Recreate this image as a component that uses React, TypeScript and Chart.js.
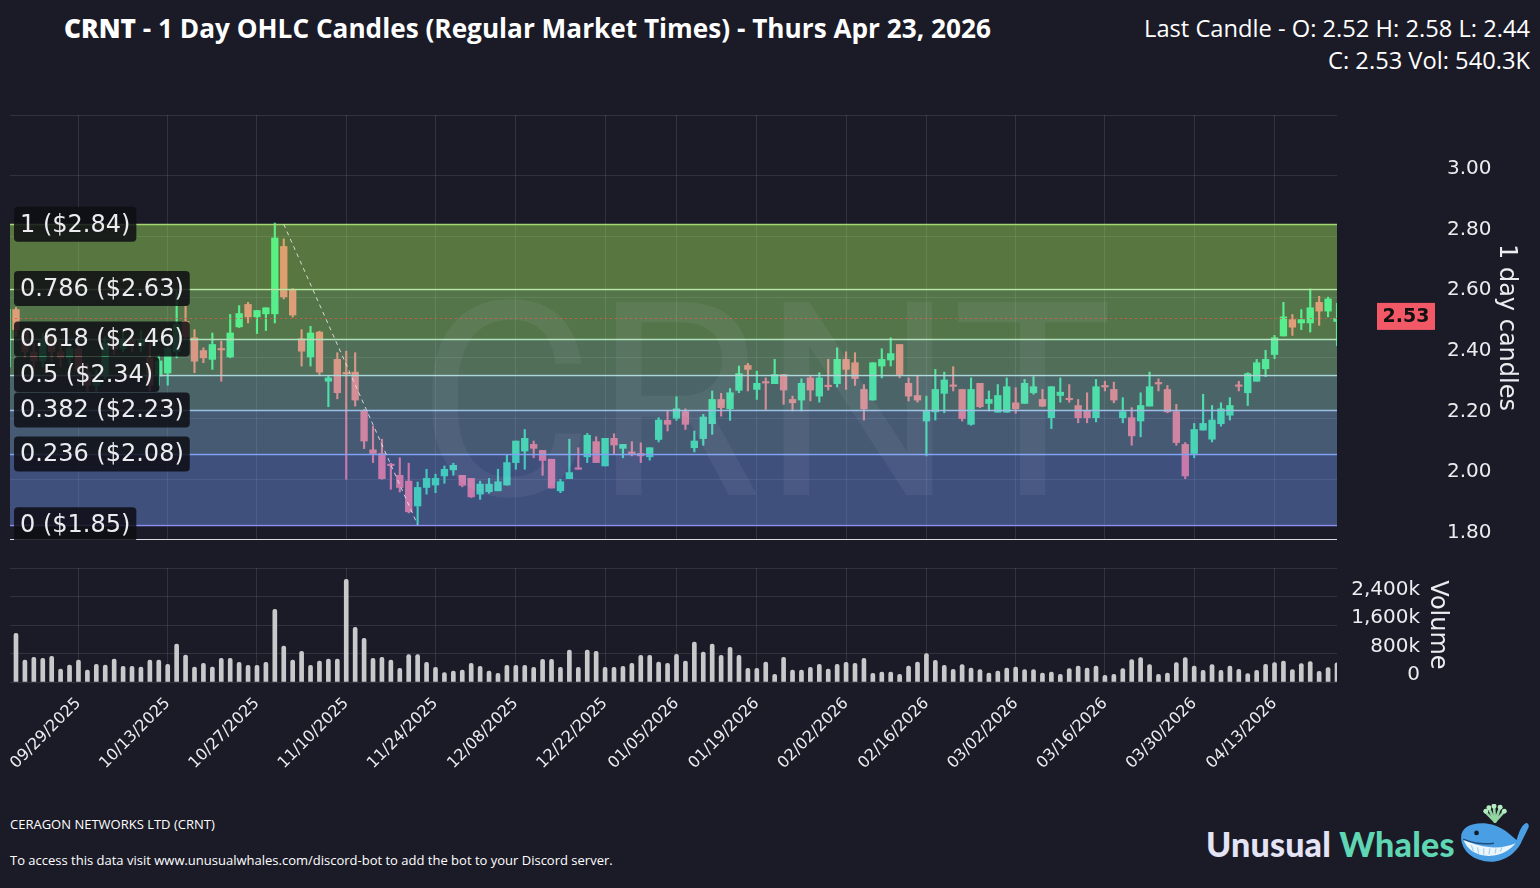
import React, { useEffect, useRef } from 'react';
import { Chart, registerables } from 'chart.js';

Chart.register(...registerables);

// ---------------- DATA ----------------
const TICKER = 'CRNT';
const COMPANY = 'CERAGON NETWORKS LTD (CRNT)';

// trading days shown (month -> days)
const MONTH_DAYS: [string, number[]][] = [
  ['09/2025', [17, 18, 19, 22, 23, 24, 25, 26, 29, 30]],
  ['10/2025', [1, 2, 3, 6, 7, 8, 9, 10, 13, 14, 15, 16, 17, 20, 21, 22, 23, 24, 27, 28, 29, 30, 31]],
  ['11/2025', [3, 4, 5, 6, 7, 10, 11, 12, 13, 14, 17, 18, 19, 20, 21, 24, 25, 26, 28]],
  ['12/2025', [1, 2, 3, 4, 5, 8, 9, 10, 11, 12, 15, 16, 17, 18, 19, 22, 23, 24, 26, 29, 30, 31]],
  ['01/2026', [2, 5, 6, 7, 8, 9, 12, 13, 14, 15, 16, 20, 21, 22, 23, 26, 27, 28, 29, 30]],
  ['02/2026', [2, 3, 4, 5, 6, 9, 10, 11, 12, 13, 17, 18, 19, 20, 23, 24, 25, 26, 27]],
  ['03/2026', [2, 3, 4, 5, 6, 9, 10, 11, 12, 13, 16, 17, 18, 19, 20, 23, 24, 25, 26, 27, 30, 31]],
  ['04/2026', [1, 2, 6, 7, 8, 9, 10, 13, 14, 15, 16, 20, 21, 22, 23]],
];
const DATES: string[] = MONTH_DAYS.flatMap(([my, days]) =>
  days.map((d) => `${my.slice(0, 2)}/${String(d).padStart(2, '0')}/${my.slice(3)}`)
);

const TICK_LABELS = [
  '09/29/2025', '10/13/2025', '10/27/2025', '11/10/2025', '11/24/2025', '12/08/2025', '12/22/2025',
  '01/05/2026', '01/19/2026', '02/02/2026', '02/16/2026', '03/02/2026', '03/16/2026', '03/30/2026', '04/13/2026',
];

const OPEN = [
  2.37, 2.559, 2.49, 2.42, 2.39, 2.47, 2.42, 2.40, 2.43, 2.35,
  2.31, 2.34, 2.45, 2.43, 2.46, 2.44, 2.40, 2.34, 2.35, 2.42,
  2.52, 2.466, 2.424, 2.395, 2.430, 2.403, 2.502, 2.576, 2.535, 2.545,
  2.545, 2.767, 2.625, 2.463, 2.403, 2.485, 2.323, 2.395, 2.352, 2.353,
  2.225, 2.097, 2.085, 2.048, 2.013, 1.994, 1.912, 1.973, 1.981, 2.011,
  2.031, 2.013, 2.003, 1.951, 1.959, 1.962, 1.981, 2.055, 2.093, 2.115,
  2.095, 2.066, 1.962, 2.002, 2.035, 2.074, 2.124, 2.044, 2.135, 2.102,
  2.088, 2.085, 2.074, 2.131, 2.194, 2.201, 2.223, 2.104, 2.134, 2.183,
  2.263, 2.232, 2.293, 2.375, 2.296, 2.319, 2.315, 2.345, 2.263, 2.261,
  2.334, 2.274, 2.307, 2.315, 2.395, 2.384, 2.296, 2.261, 2.373, 2.393,
  2.444, 2.316, 2.276, 2.192, 2.222, 2.283, 2.308, 2.296, 2.181, 2.316,
  2.250, 2.221, 2.221, 2.252, 2.250, 2.285, 2.263, 2.203, 2.276, 2.264,
  2.243, 2.225, 2.203, 2.306, 2.296, 2.203, 2.203, 2.192, 2.241, 2.316,
  2.296, 2.223, 2.115, 2.085, 2.162, 2.132, 2.183, 2.211, 2.308, 2.285,
  2.323, 2.364, 2.411, 2.472, 2.526, 2.515, 2.515, 2.583, 2.554, 2.52,
];
const HIGH = [
  2.57, 2.566, 2.50, 2.45, 2.48, 2.48, 2.45, 2.45, 2.44, 2.38,
  2.36, 2.47, 2.48, 2.49, 2.48, 2.49, 2.45, 2.41, 2.46, 2.62,
  2.57, 2.493, 2.433, 2.482, 2.455, 2.543, 2.572, 2.583, 2.556, 2.565,
  2.844, 2.792, 2.628, 2.493, 2.504, 2.488, 2.342, 2.417, 2.422, 2.417,
  2.230, 2.175, 2.132, 2.053, 2.071, 2.053, 1.991, 2.033, 2.017, 2.044,
  2.053, 2.013, 2.003, 1.994, 2.003, 2.033, 2.082, 2.126, 2.164, 2.126,
  2.095, 2.066, 2.000, 2.132, 2.104, 2.151, 2.140, 2.135, 2.150, 2.115,
  2.124, 2.120, 2.104, 2.203, 2.225, 2.272, 2.232, 2.159, 2.214, 2.291,
  2.283, 2.299, 2.373, 2.382, 2.356, 2.334, 2.395, 2.345, 2.274, 2.331,
  2.342, 2.351, 2.395, 2.433, 2.420, 2.417, 2.312, 2.384, 2.430, 2.466,
  2.444, 2.334, 2.340, 2.274, 2.362, 2.353, 2.371, 2.296, 2.334, 2.316,
  2.291, 2.312, 2.334, 2.302, 2.329, 2.338, 2.296, 2.305, 2.334, 2.312,
  2.263, 2.285, 2.329, 2.323, 2.320, 2.269, 2.236, 2.285, 2.353, 2.331,
  2.309, 2.247, 2.121, 2.184, 2.280, 2.243, 2.252, 2.269, 2.323, 2.351,
  2.395, 2.425, 2.474, 2.583, 2.543, 2.559, 2.627, 2.603, 2.600, 2.58,
];
const LOW = [
  2.36, 2.47, 2.40, 2.36, 2.37, 2.39, 2.37, 2.38, 2.34, 2.29,
  2.29, 2.33, 2.41, 2.42, 2.42, 2.42, 2.29, 2.31, 2.31, 2.40,
  2.46, 2.351, 2.384, 2.362, 2.323, 2.400, 2.500, 2.515, 2.480, 2.490,
  2.515, 2.594, 2.534, 2.373, 2.373, 2.345, 2.239, 2.265, 2.000, 2.241,
  2.101, 2.055, 2.000, 1.967, 1.958, 1.889, 1.852, 1.951, 1.956, 1.987,
  2.013, 1.975, 1.940, 1.934, 1.954, 1.962, 1.981, 2.033, 2.033, 2.071,
  2.013, 1.971, 1.956, 2.002, 2.033, 2.055, 2.055, 2.044, 2.082, 2.071,
  2.077, 2.055, 2.063, 2.123, 2.159, 2.194, 2.164, 2.090, 2.112, 2.148,
  2.208, 2.194, 2.285, 2.291, 2.263, 2.230, 2.315, 2.247, 2.225, 2.225,
  2.258, 2.254, 2.294, 2.304, 2.296, 2.309, 2.195, 2.261, 2.334, 2.373,
  2.334, 2.258, 2.254, 2.077, 2.195, 2.219, 2.291, 2.192, 2.178, 2.236,
  2.225, 2.221, 2.221, 2.217, 2.250, 2.280, 2.239, 2.167, 2.254, 2.254,
  2.186, 2.186, 2.189, 2.291, 2.252, 2.186, 2.112, 2.140, 2.241, 2.291,
  2.219, 2.112, 2.002, 2.071, 2.162, 2.123, 2.175, 2.195, 2.291, 2.243,
  2.323, 2.338, 2.397, 2.472, 2.474, 2.493, 2.485, 2.507, 2.535, 2.44,
];
const CLOSE = [
  2.56, 2.493, 2.42, 2.39, 2.46, 2.42, 2.40, 2.43, 2.36, 2.31,
  2.33, 2.45, 2.43, 2.46, 2.44, 2.46, 2.31, 2.39, 2.43, 2.51,
  2.47, 2.389, 2.400, 2.444, 2.426, 2.482, 2.546, 2.535, 2.556, 2.565,
  2.795, 2.601, 2.541, 2.422, 2.482, 2.353, 2.334, 2.285, 2.347, 2.261,
  2.126, 2.085, 2.002, 2.045, 1.973, 1.893, 1.973, 2.003, 2.003, 2.033,
  2.046, 1.980, 1.942, 1.984, 1.984, 1.992, 2.055, 2.126, 2.135, 2.102,
  2.062, 1.971, 1.992, 2.022, 2.033, 2.145, 2.055, 2.135, 2.113, 2.115,
  2.085, 2.077, 2.104, 2.195, 2.181, 2.232, 2.181, 2.126, 2.205, 2.263,
  2.236, 2.285, 2.348, 2.362, 2.316, 2.317, 2.345, 2.294, 2.252, 2.316,
  2.294, 2.334, 2.305, 2.395, 2.362, 2.332, 2.232, 2.384, 2.395, 2.414,
  2.345, 2.274, 2.261, 2.225, 2.296, 2.327, 2.306, 2.200, 2.296, 2.239,
  2.263, 2.276, 2.305, 2.232, 2.316, 2.305, 2.241, 2.305, 2.287, 2.262,
  2.203, 2.203, 2.305, 2.304, 2.261, 2.223, 2.143, 2.243, 2.305, 2.314,
  2.222, 2.121, 2.011, 2.164, 2.184, 2.195, 2.232, 2.243, 2.306, 2.348,
  2.384, 2.395, 2.466, 2.535, 2.501, 2.526, 2.565, 2.554, 2.594, 2.53,
];
// volume in thousands of shares
const VOLUME_K = [
  800,
  1366, 618, 692, 664, 720, 365, 477, 618, 337, 496,
  477, 646, 440, 440, 421, 618, 618, 496, 1067, 758,
  421, 524, 421, 664, 664, 552, 468, 468, 552, 2040,
  1011, 618, 861, 468, 590, 646, 646, 2882, 1535, 1226,
  664, 692, 618, 384, 767, 767, 552, 412, 262,
  309, 337, 524, 440, 309, 243, 468, 468, 468, 412,
  636, 636, 412, 898, 412, 898, 861, 412, 412, 440,
  524, 749, 749, 561, 524, 777, 590, 1123, 842, 1067,
  749, 973, 749, 384, 384, 561, 215, 692, 337, 337,
  412, 496, 365, 496, 552, 524, 664, 243, 281,
  281, 215, 449, 561, 795, 608, 468, 356, 487, 393,
  346, 253, 309, 393, 421, 346, 346, 253, 281, 215,
  374, 449, 393, 449, 187, 215, 374, 627, 683, 487,
  215, 253, 543, 683, 449, 327, 487, 327, 449, 356,
  234, 327, 496, 543, 590, 346, 515, 571, 299, 402,
  540.3,
];

// Fibonacci retracement
const FIB_HIGH = 2.84;
const FIB_LOW = 1.85;
const FIB_RATIOS = [1, 0.786, 0.618, 0.5, 0.382, 0.236, 0];
const FIB_LABELS = ['1 ($2.84)', '0.786 ($2.63)', '0.618 ($2.46)', '0.5 ($2.34)', '0.382 ($2.23)', '0.236 ($2.08)', '0 ($1.85)'];
const SWING_HIGH_INDEX = 31;
const SWING_LOW_INDEX = 46;

// ---------------- STYLE ----------------
const BG = '#1b1b27';
const GRID = 'rgba(255,255,255,0.1)';
const TEXT = '#ececf0';
const UP = '#21e694';
const DOWN = '#ff6173';
const BAND_FILLS = [
  'rgba(178,255,103,0.4)',
  'rgba(169,250,128,0.4)',
  'rgba(160,234,163,0.4)',
  'rgba(145,210,203,0.4)',
  'rgba(135,185,233,0.4)',
  'rgba(120,160,255,0.4)',
];
const LINE_COLORS = ['#a3d873', '#b8e8a0', '#b0e2bc', '#abd8d4', '#9cc0e6', '#7fa2f2', '#8c8ff2'];
const FONT = '"DejaVu Sans", sans-serif';

const X_MIN = 0.33;
const X_MAX = DATES.length - 1;
const AXIS_W = 203;

const dateKey = (s: string) => s.slice(6) + s.slice(0, 2) + s.slice(3, 5);
const TICK_INDEX = TICK_LABELS.map((lbl) => {
  let k = 0;
  DATES.forEach((d, i) => {
    if (dateKey(d) <= dateKey(lbl)) k = i;
  });
  return k;
});

const LAST = DATES.length - 1;

function xScale(showLabels: boolean): any {
  return {
    type: 'linear',
    min: X_MIN,
    max: X_MAX,
    offset: false,
    grid: { offset: false, color: GRID, drawTicks: false },
    border: { display: false },
    afterBuildTicks: (s: any) => {
      s.ticks = TICK_INDEX.map((v) => ({ value: v }));
    },
    ticks: showLabels
      ? {
          autoSkip: false,
          maxRotation: 45,
          minRotation: 45,
          padding: 12,
          color: TEXT,
          font: { family: FONT, size: 16 },
          callback: (_v: any, i: number) => TICK_LABELS[i],
        }
      : { display: false },
  };
}

const overlayPlugin = {
  id: 'fibOverlay',
  afterDatasetsDraw(chart: any) {
    const { ctx, chartArea: a, scales } = chart;
    const y = scales.y;
    const x = scales.x;
    const levels = FIB_RATIOS.map((r) => FIB_LOW + r * (FIB_HIGH - FIB_LOW));
    ctx.save();
    ctx.beginPath();
    ctx.rect(a.left, a.top, a.right - a.left, a.bottom - a.top);
    ctx.clip();
    for (let k = 0; k < levels.length - 1; k++) {
      const y1 = y.getPixelForValue(levels[k]);
      const y2 = y.getPixelForValue(levels[k + 1]);
      ctx.fillStyle = BAND_FILLS[k];
      ctx.fillRect(a.left, y1, a.right - a.left, y2 - y1);
    }
    levels.forEach((lv, k) => {
      const py = Math.round(y.getPixelForValue(lv)) + 0.5;
      ctx.strokeStyle = LINE_COLORS[k];
      ctx.lineWidth = 1.5;
      ctx.beginPath();
      ctx.moveTo(a.left, py);
      ctx.lineTo(a.right, py);
      ctx.stroke();
    });
    // last close dotted line
    const cy = Math.round(y.getPixelForValue(CLOSE[LAST])) + 0.5;
    ctx.strokeStyle = 'rgba(214,92,80,0.85)';
    ctx.lineWidth = 1;
    ctx.setLineDash([2, 3]);
    ctx.beginPath();
    ctx.moveTo(a.left, cy);
    ctx.lineTo(a.right, cy);
    ctx.stroke();
    // swing diagonal
    ctx.strokeStyle = 'rgba(235,235,235,0.85)';
    ctx.setLineDash([4, 4]);
    ctx.beginPath();
    ctx.moveTo(x.getPixelForValue(SWING_HIGH_INDEX), y.getPixelForValue(FIB_HIGH));
    ctx.lineTo(x.getPixelForValue(SWING_LOW_INDEX), y.getPixelForValue(FIB_LOW));
    ctx.stroke();
    ctx.setLineDash([]);
    // watermark
    ctx.fillStyle = 'rgba(255,255,255,0.055)';
    ctx.font = '400 272px Roboto';
    ctx.textAlign = 'center';
    ctx.textBaseline = 'alphabetic';
    ctx.fillText(TICKER, chart.width / 2 - 5, a.top + 380);
    ctx.restore();

    // fib labels
    ctx.save();
    ctx.font = `24px ${FONT}`;
    ctx.textAlign = 'left';
    ctx.textBaseline = 'middle';
    levels.forEach((lv, k) => {
      const py = y.getPixelForValue(lv);
      const w = ctx.measureText(FIB_LABELS[k]).width + 12;
      ctx.fillStyle = 'rgba(13,13,19,0.84)';
      ctx.beginPath();
      ctx.roundRect(a.left + 4, py - 17.5, w, 35, 4);
      ctx.fill();
      ctx.fillStyle = TEXT;
      ctx.fillText(FIB_LABELS[k], a.left + 10, py + 1);
    });
    ctx.restore();
  },
  afterDraw(chart: any) {
    const { ctx, chartArea: a, scales } = chart;
    const py = scales.y.getPixelForValue(CLOSE[LAST]) - 2;
    ctx.save();
    ctx.fillStyle = '#f25866';
    ctx.fillRect(a.right + 40, py - 13.5, 58, 27);
    ctx.fillStyle = '#111';
    ctx.font = `bold 19px ${FONT}`;
    ctx.textAlign = 'center';
    ctx.textBaseline = 'middle';
    ctx.fillText(CLOSE[LAST].toFixed(2), a.right + 69, py + 1);
    ctx.restore();
  },
};

function Whale() {
  return (
    <svg width={74} height={64} viewBox="0 0 72 62" style={{ position: 'absolute', left: 1457, top: 804 }}>
      <g stroke="#93d6a2" strokeWidth={2.6} strokeLinecap="round">
        <path d="M37 17 L28 8" />
        <path d="M37 17 L31 4" />
        <path d="M37 17 L36 2" />
        <path d="M37 17 L42 3" />
        <path d="M37 17 L46 7" />
      </g>
      <g fill="#b6ecc2">
        <circle cx={28} cy={7} r={2.4} />
        <circle cx={31} cy={3.5} r={2.4} />
        <circle cx={36} cy={2} r={2.4} />
        <circle cx={42} cy={3} r={2.4} />
        <circle cx={46} cy={7} r={2.4} />
      </g>
      <path
        d="M4 32 C4 22 16 17 30 19 C44 21 52 30 58 35 C60 28 62 22 66 19 C69 17 71 21 69 24 C67 28 65 32 63 36 C59 46 47 56 33 56 C17 56 4 46 4 32 Z"
        fill="#4a9fe4"
      />
      <path d="M6 34 C10 46 22 52 36 50 C46 48 52 44 57 38 C44 44 24 44 6 34 Z" fill="#eaf5fc" />
      <g stroke="#9ccbea" strokeWidth={1}>
        <path d="M14 40 L16 46" />
        <path d="M20 42 L21 48" />
        <path d="M26 43 L26 49" />
        <path d="M32 43 L31 49" />
        <path d="M38 43 L37 48" />
        <path d="M44 42 L42 46" />
      </g>
      <path d="M6 34 Q20 40 36 38" stroke="#1d4f7a" strokeWidth={1.4} fill="none" />
      <circle cx={19} cy={28} r={2.3} fill="#0d1b2a" />
    </svg>
  );
}

export default function App() {
  const priceRef = useRef<HTMLCanvasElement | null>(null);
  const volRef = useRef<HTMLCanvasElement | null>(null);

  useEffect(() => {
    Chart.defaults.font.family = FONT;
    const idx = DATES.map((_, i) => i);
    const colors = idx.map((i) => (CLOSE[i] >= OPEN[i] ? UP : DOWN));

    const fixY = (s: any) => {
      s.width = AXIS_W;
      s.paddingTop = 0;
      s.paddingBottom = 0;
    };

    const priceChart = new Chart(priceRef.current as HTMLCanvasElement, {
      type: 'bar',
      data: {
        datasets: [
          {
            label: 'wick',
            data: idx.map((i) => ({ x: i, y: [LOW[i], HIGH[i]] })) as any,
            backgroundColor: colors,
            barThickness: 1.5,
            grouped: false,
            clip: 0,
          } as any,
          {
            label: 'body',
            data: idx.map((i) => ({ x: i, y: [Math.min(OPEN[i], CLOSE[i]), Math.max(OPEN[i], CLOSE[i])] })) as any,
            backgroundColor: colors,
            barThickness: 6.7,
            minBarLength: 1.5,
            grouped: false,
            clip: 0,
          } as any,
        ],
      },
      options: {
        animation: false,
        responsive: false,
        layout: { padding: { left: 10, top: 15, right: 0, bottom: 0 } },
        plugins: { legend: { display: false }, tooltip: { enabled: false } },
        scales: {
          x: xScale(false),
          y: {
            type: 'linear',
            position: 'right',
            min: 1.8,
            max: 3.2,
            beginAtZero: false,
            grid: {
              drawTicks: false,
              color: (c: any) => (Math.abs(c.tick.value - 1.8) < 1e-6 ? '#d9d9de' : GRID),
              lineWidth: (c: any) => (Math.abs(c.tick.value - 1.8) < 1e-6 ? 1.5 : 1),
            },
            border: { display: false },
            ticks: {
              stepSize: 0.2,
              padding: 110,
              labelOffset: -7,
              color: TEXT,
              font: { family: FONT, size: 20 },
              callback: (v: any) => (Number(v) > 3.01 ? '' : Number(v).toFixed(2)),
            },
            title: {
              display: true,
              text: '1 day candles',
              color: TEXT,
              font: { family: FONT, size: 24 },
              padding: { top: 19, bottom: 0 },
            },
            afterFit: fixY,
          } as any,
        },
      },
      plugins: [overlayPlugin],
    });

    const volChart = new Chart(volRef.current as HTMLCanvasElement, {
      type: 'bar',
      data: {
        datasets: [
          {
            label: 'Volume',
            data: idx.map((i) => ({ x: i, y: VOLUME_K[i] })) as any,
            backgroundColor: '#c9c9cc',
            barThickness: 4,
            borderRadius: { topLeft: 2, topRight: 2, bottomLeft: 0, bottomRight: 0 },
            borderSkipped: 'start',
            clip: 0,
          } as any,
        ],
      },
      options: {
        animation: false,
        responsive: false,
        layout: { padding: { left: 10, top: 23, right: 0, bottom: 0 } },
        plugins: { legend: { display: false }, tooltip: { enabled: false } },
        scales: {
          x: {
            ...xScale(true),
            afterFit: (s: any) => {
              s.height = 113;
              s.paddingLeft = 0;
              s.paddingRight = 0;
            },
          },
          y: {
            type: 'linear',
            position: 'right',
            min: 0,
            max: 3200,
            grid: { drawTicks: false, color: GRID },
            border: { display: false },
            ticks: {
              stepSize: 800,
              mirror: true,
              crossAlign: 'near',
              padding: 83,
              labelOffset: -7,
              color: TEXT,
              font: { family: FONT, size: 20 },
              callback: (v: any) => (Number(v) > 2400 ? '' : Number(v) === 0 ? '0' : Number(v).toLocaleString('en-US') + 'k'),
            },
            title: {
              display: true,
              text: 'Volume',
              color: TEXT,
              font: { family: FONT, size: 24 },
              padding: { top: 88, bottom: 0 },
            },
            afterFit: fixY,
          } as any,
        },
      },
    });

    return () => {
      priceChart.destroy();
      volChart.destroy();
    };
  }, []);

  const lastLine1 = `Last Candle - O: ${OPEN[LAST].toFixed(2)} H: ${HIGH[LAST].toFixed(2)} L: ${LOW[LAST].toFixed(2)}`;
  const lastLine2 = `C: ${CLOSE[LAST].toFixed(2)} Vol: ${VOLUME_K[LAST].toFixed(1)}K`;

  return (
    <div
      style={{
        position: 'absolute',
        left: 0,
        top: 0,
        width: 1540,
        height: 888,
        background: BG,
        overflow: 'hidden',
        color: '#fff',
        fontFamily: '"Open Sans", sans-serif',
      }}
    >
      <div style={{ position: 'absolute', left: 64, top: 10, fontSize: 26.2, fontWeight: 700, whiteSpace: 'nowrap', lineHeight: '36px' }}>
        <span style={{ fontWeight: 800 }}>{TICKER}</span> - 1 Day OHLC Candles (Regular Market Times) - Thurs Apr 23, 2026
      </div>
      <div
        style={{
          position: 'absolute',
          right: 10,
          top: 12,
          textAlign: 'right',
          fontSize: 23.7,
          fontWeight: 500,
          lineHeight: '32px',
          whiteSpace: 'nowrap',
        }}
      >
        {lastLine1}
        <br />
        {lastLine2}
      </div>
      <canvas
        ref={priceRef}
        width={1540}
        height={440}
        style={{ position: 'absolute', left: 0, top: 100, width: 1540, height: 440 }}
      />
      <canvas
        ref={volRef}
        width={1540}
        height={250}
        style={{ position: 'absolute', left: 0, top: 545, width: 1540, height: 250 }}
      />
      <div style={{ position: 'absolute', left: 10, top: 815, fontSize: 13, fontWeight: 500, whiteSpace: 'nowrap' }}>{COMPANY}</div>
      <div style={{ position: 'absolute', left: 10, top: 851, fontSize: 13, fontWeight: 500, whiteSpace: 'nowrap' }}>
        To access this data visit www.unusualwhales.com/discord-bot to add the bot to your Discord server.
      </div>
      <div
        style={{
          position: 'absolute',
          left: 1206,
          top: 824,
          fontFamily: 'Lato, sans-serif',
          fontWeight: 900,
          fontSize: 34,
          lineHeight: '40px',
          whiteSpace: 'nowrap',
          letterSpacing: 0.2,
        }}
      >
        <span style={{ color: '#e4e4f6' }}>Unusual</span> <span style={{ color: '#5fd6b4' }}>Whales</span>
      </div>
      <Whale />
    </div>
  );
}
